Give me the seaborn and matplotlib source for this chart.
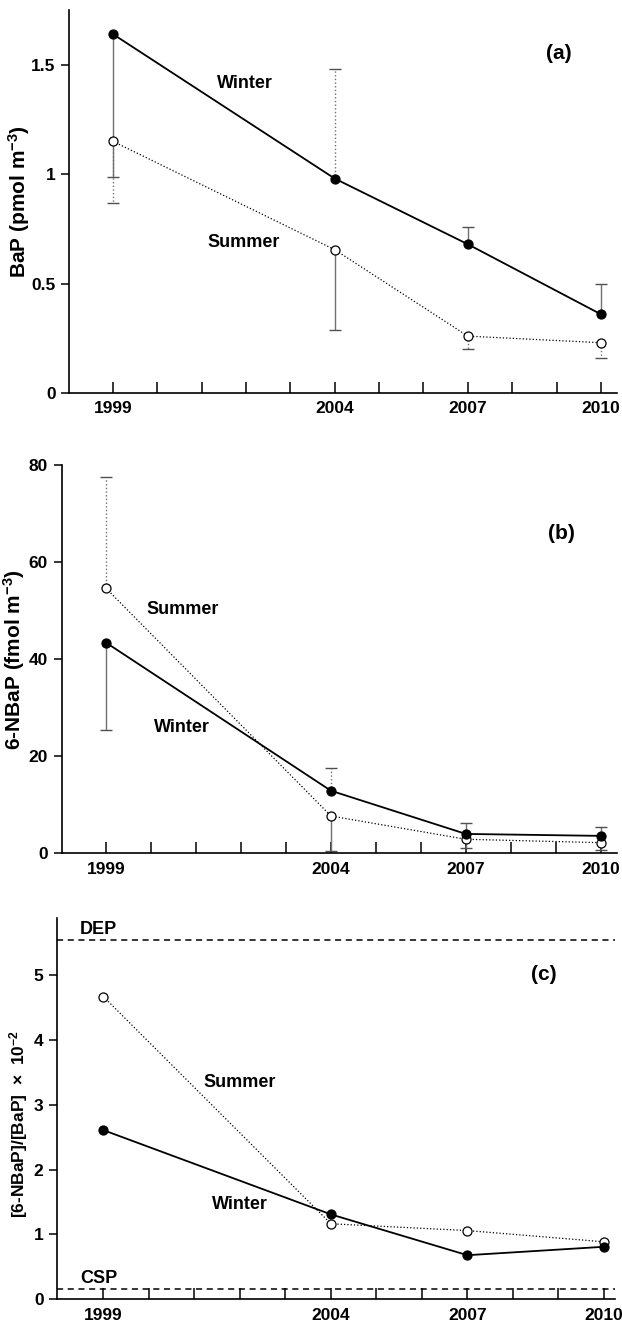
import matplotlib
matplotlib.use('Agg')
import matplotlib.pyplot as plt
import seaborn as sns

# sampling years and the years that carry a tick label
years = [1999, 2004, 2007, 2010]
all_years = list(range(1999, 2011))
label_years = [1999, 2004, 2007, 2010]

# (a) BaP, pmol m-3
bap_winter = [1.64, 0.98, 0.68, 0.36]
bap_summer = [1.15, 0.655, 0.26, 0.23]
# one-sided error bars: value at the end of each bar
bap_winter_bar = [0.985, 1.48, 0.76, 0.50]
bap_summer_bar = [0.87, 0.29, 0.20, 0.16]
bap_winter_bar_ls = ['-', ':', '-', '-']
bap_summer_bar_ls = [':', '-', ':', ':']

# (b) 6-NBaP, fmol m-3
nbap_winter = [43.4, 12.9, 4.0, 3.6]
nbap_summer = [54.6, 7.7, 2.9, 2.2]
nbap_winter_bar = [25.5, 17.5, 6.2, 5.5]
nbap_summer_bar = [77.5, 0.5, 1.2, 0.7]
nbap_winter_bar_ls = ['-', ':', '-', '-']
nbap_summer_bar_ls = [':', '-', '-', '-']

# (c) [6-NBaP]/[BaP] x 10^-2
ratio_winter = [2.61, 1.31, 0.68, 0.81]
ratio_summer = [4.67, 1.165, 1.06, 0.887]
dep_level = 5.54
csp_level = 0.16

sns.set_style('ticks')
plt.rcParams['font.family'] = ['Liberation Sans', 'DejaVu Sans']
plt.rcParams['font.weight'] = 'bold'
plt.rcParams['mathtext.fontset'] = 'custom'
plt.rcParams['mathtext.rm'] = 'Liberation Sans:bold'
plt.rcParams['mathtext.it'] = 'Liberation Sans:bold'
plt.rcParams['mathtext.bf'] = 'Liberation Sans:bold'
plt.rcParams['mathtext.default'] = 'regular'
for key in ['text.color', 'axes.labelcolor', 'xtick.color', 'ytick.color', 'axes.edgecolor']:
    plt.rcParams[key] = 'black'

fig = plt.figure(figsize=(6.22, 13.22), dpi=100)
ax_a = fig.add_axes([0.1117, 0.7027, 0.880, 0.2897])
ax_b = fig.add_axes([0.0989, 0.3545, 0.893, 0.2938])
ax_c = fig.add_axes([0.0924, 0.0172, 0.896, 0.2882])


def draw_bars(ax, means, ends, styles):
    for x, m, e, ls in zip(years, means, ends, styles):
        ax.vlines(x, m, e, colors='#707070', linestyles=ls, lw=1, zorder=1)
        ax.plot(x, e, marker='_', ms=8, mew=1, color='#505050', zorder=1)


def draw_series(ax, winter, summer):
    sns.lineplot(x=years, y=summer, ax=ax, color='k', lw=0.9, ls=':',
                 marker='o', ms=6.5, mfc='white', mec='k', mew=0.9, zorder=3)
    sns.lineplot(x=years, y=winter, ax=ax, color='k', lw=1.3, ls='-',
                 marker='o', ms=6.5, mfc='k', mec='k', mew=0.9, zorder=3)


def style_axes(ax, xlim, ylim, yticks, yticklabels):
    ax.set_xlim(*xlim)
    ax.set_ylim(*ylim)
    ax.set_xticks(all_years)
    ax.set_xticklabels([str(y) if y in label_years else '' for y in all_years])
    ax.set_yticks(yticks)
    ax.set_yticklabels(yticklabels)
    ax.tick_params(axis='x', direction='in', length=8, width=1.1, labelsize=12.5, pad=6)
    ax.tick_params(axis='y', direction='out', length=6, width=1.1, labelsize=12.5, pad=4)
    for lab in ax.get_xticklabels() + ax.get_yticklabels():
        lab.set_fontweight('bold')
    sns.despine(ax=ax)
    for s in ['left', 'bottom']:
        ax.spines[s].set_linewidth(1.2)
    ax.set_xlabel('')


# (a)
draw_bars(ax_a, bap_winter, bap_winter_bar, bap_winter_bar_ls)
draw_bars(ax_a, bap_summer, bap_summer_bar, bap_summer_bar_ls)
draw_series(ax_a, bap_winter, bap_summer)
style_axes(ax_a, (1998.02, 2010.36), (0, 1.75), [0, 0.5, 1, 1.5], ['0', '0.5', '1', '1.5'])
ax_a.set_ylabel('BaP (pmol m$^{-3}$)', fontsize=15, fontweight='bold')
ax_a.yaxis.set_label_coords(-0.068, 0.5)
ax_a.text(2001.97, 1.414, 'Winter', ha='center', va='center', fontsize=13, fontweight='bold')
ax_a.text(2001.95, 0.686, 'Summer', ha='center', va='center', fontsize=13, fontweight='bold')
ax_a.text(2009.05, 1.55, '(a)', ha='center', va='center', fontsize=15, fontweight='bold')

# (b)
draw_bars(ax_b, nbap_winter, nbap_winter_bar, nbap_winter_bar_ls)
draw_bars(ax_b, nbap_summer, nbap_summer_bar, nbap_summer_bar_ls)
draw_series(ax_b, nbap_winter, nbap_summer)
style_axes(ax_b, (1998.01, 2010.36), (0, 80), [0, 20, 40, 60, 80], ['0', '20', '40', '60', '80'])
ax_b.set_ylabel('6-NBaP (fmol m$^{-3}$)', fontsize=15, fontweight='bold')
ax_b.yaxis.set_label_coords(-0.062, 0.5)
ax_b.text(2000.7, 50.3, 'Summer', ha='center', va='center', fontsize=13, fontweight='bold')
ax_b.text(2000.68, 26, 'Winter', ha='center', va='center', fontsize=13, fontweight='bold')
ax_b.text(2009.12, 65.9, '(b)', ha='center', va='center', fontsize=15, fontweight='bold')

# (c)
ax_c.axhline(dep_level, color='k', ls='--', lw=1.1, dashes=(4, 3))
ax_c.axhline(csp_level, color='k', ls='--', lw=1.1, dashes=(4, 3))
draw_series(ax_c, ratio_winter, ratio_summer)
style_axes(ax_c, (1997.99, 2010.24), (0, 5.88), [0, 1, 2, 3, 4, 5], ['0', '1', '2', '3', '4', '5'])
ax_c.set_ylabel('[6-NBaP]/[BaP]  \u00d7  10$^{-2}$', fontsize=12.5, fontweight='bold')
ax_c.yaxis.set_label_coords(-0.05, 0.46)
ax_c.text(2002.0, 3.35, 'Summer', ha='center', va='center', fontsize=13, fontweight='bold')
ax_c.text(2002.0, 1.47, 'Winter', ha='center', va='center', fontsize=13, fontweight='bold')
ax_c.text(2008.67, 5.01, '(c)', ha='center', va='center', fontsize=15, fontweight='bold')
ax_c.text(1998.9, dep_level + 0.03, 'DEP', ha='center', va='bottom', fontsize=13, fontweight='bold')
ax_c.text(1998.9, csp_level + 0.03, 'CSP', ha='center', va='bottom', fontsize=13, fontweight='bold')

fig.savefig('out.png', dpi=100)
